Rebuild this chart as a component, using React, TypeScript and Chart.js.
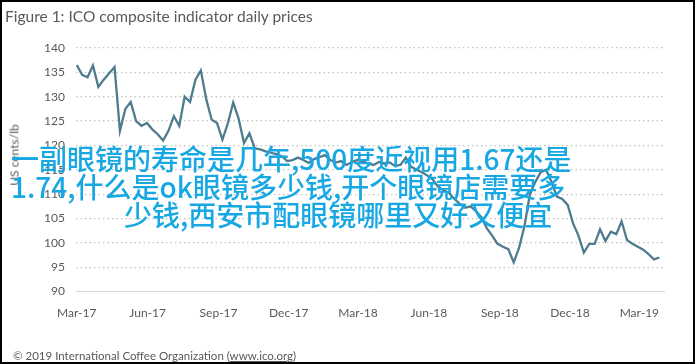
import React, { useEffect, useRef } from "react";
import { Chart, registerables } from "chart.js";

Chart.register(...registerables);

// Weekly observations of the ICO composite indicator (US cents/lb), starting 1 March 2017
const firstDate = "2017-03-01";
const prices: number[] = [
  136.5, 134.5, 134, 136.4, 132, 133.5, 134.8, 136.1, 123, 127.5,
  128.9, 125, 124, 124.6, 123.3, 122.3, 121, 123, 126, 124,
  130, 128.9, 133.5, 135.4, 129.5, 125.3, 124.6, 121.2, 124.5, 128.8,
  125.5, 120.5, 122.5, 119.4, 119.2, 118.8, 118.5, 118.2, 117.8, 116.8,
  117, 117.5, 117, 116.4, 117.2, 117.6, 118, 117, 116.5, 116.8,
  116, 116.6, 117, 116.8, 116.3, 116, 116.6, 116.3, 116.5, 115.8,
  116, 117.5, 115.6, 115, 114.5, 113.8, 113, 111.5, 110.8, 110.3,
  109, 108, 107.2, 107.5, 106.5, 105.3, 103, 101.5, 99.8, 99.2,
  98.7, 96, 99, 103.5, 110, 112.5, 114.5, 115, 112.5, 109.5,
  109, 107.8, 104, 101.5, 98, 99.8, 99.8, 102.8, 100.4, 102.3,
  101.8, 104.4, 100.6, 99.8, 99.2, 98.6, 97.7, 96.6, 97,
];

const xTickDates = [
  "2017-03-01", "2017-06-01", "2017-09-01", "2017-12-01", "2018-03-01",
  "2018-06-01", "2018-09-01", "2018-12-01", "2019-03-01",
];
const xTickLabels = [
  "Mar-17", "Jun-17", "Sep-17", "Dec-17", "Mar-18",
  "Jun-18", "Sep-18", "Dec-18", "Mar-19",
];
const yTicks = [90, 95, 100, 105, 110, 115, 120, 125, 130, 135, 140];

const titleText = "Figure 1: ICO composite indicator daily prices";
const yAxisTitle = "US cents/lb";
const footerText = "© 2019 International Coffee Organization (";
const footerLink = "www.ico.org";
const overlayLines = [
  "一副眼镜的寿命是几年,500度近视用1.67还是",
  "1.74,什么是ok眼镜多少钱,开个眼镜店需要多",
  "少钱,西安市配眼镜哪里又好又便宜",
];

const DAY = 86400000;
const dayOf = (iso: string) => Math.round((Date.parse(iso + "T00:00:00Z") - Date.parse(firstDate + "T00:00:00Z")) / DAY);

const FONT = "Lato, 'Open Sans', sans-serif";
const GREY = "#595959";

export default function App() {
  const canvasRef = useRef<HTMLCanvasElement | null>(null);

  useEffect(() => {
    document.body.style.margin = "0";
    const canvas = canvasRef.current;
    if (!canvas) return;
    const points = prices.map((v, i) => ({ x: i * 7, y: v }));
    const tickDays = xTickDates.map(dayOf);

    const chart = new Chart(canvas, {
      type: "line",
      data: {
        datasets: [
          {
            data: points,
            borderColor: "#4f7b8f",
            borderWidth: 2.3,
            pointRadius: 0,
            tension: 0,
            fill: false,
          },
        ],
      },
      options: {
        animation: false,
        responsive: false,
        events: [],
        layout: { padding: { left: 0, right: 31, top: 48, bottom: 30 } },
        plugins: { legend: { display: false }, tooltip: { enabled: false }, title: { display: false } },
        scales: {
          x: {
            type: "linear",
            min: -1,
            max: 762,
            afterBuildTicks: (scale: any) => {
              scale.ticks = tickDays.map((d) => ({ value: d }));
            },
            ticks: {
              autoSkip: false,
              maxRotation: 0,
              padding: 14,
              color: GREY,
              font: { family: FONT, size: 12 },
              callback: (value: any) => {
                const idx = tickDays.indexOf(Number(value));
                return idx >= 0 ? xTickLabels[idx] : "";
              },
            },
            grid: { display: false, drawTicks: false },
            border: { display: true, color: "#d9d9d9", width: 1 },
          },
          y: {
            min: 90,
            max: 140,
            afterBuildTicks: (scale: any) => {
              scale.ticks = yTicks.map((v) => ({ value: v }));
            },
            afterFit: (scale: any) => {
              scale.width = 76;
            },
            ticks: {
              padding: 11,
              color: GREY,
              font: { family: FONT, size: 12 },
            },
            grid: {
              drawTicks: false,
              lineWidth: 1.2,
              color: (ctx: any) => (ctx.tick && ctx.tick.value === 90 ? "rgba(0,0,0,0)" : "#c4c4c4"),
            },
            border: { display: false, dash: [1.5, 3] },
          },
        },
      },
    } as any);

    return () => chart.destroy();
  }, []);

  return (
    <div style={{ position: "relative", width: 695, height: 364, background: "#fff", overflow: "hidden" }}>
      <canvas ref={canvasRef} width={695} height={364} style={{ position: "absolute", left: 0, top: 0 }} />
      <div
        style={{
          position: "absolute",
          left: 5,
          top: 6,
          fontFamily: FONT,
          fontSize: 15.5,
          color: GREY,
          whiteSpace: "nowrap",
          lineHeight: "20px",
        }}
      >
        {titleText}
      </div>
      <div
        style={{
          position: "absolute",
          left: 14,
          top: 155,
          transform: "translate(-50%, -50%) rotate(-90deg)",
          fontFamily: FONT,
          fontSize: 12,
          color: GREY,
          whiteSpace: "nowrap",
        }}
      >
        {yAxisTitle}
      </div>
      <div
        style={{
          position: "absolute",
          left: 13,
          top: 348,
          fontFamily: FONT,
          fontSize: 11.5,
          color: GREY,
          whiteSpace: "nowrap",
          lineHeight: "16px",
        }}
      >
        {footerText}
        <span style={{ textDecoration: "underline" }}>{footerLink}</span>)
      </div>
      {overlayLines.map((line, i) => (
        <div
          key={i}
          style={{
            position: "absolute",
            left: i === 2 ? 124 : 11,
            top: 144 + i * 28,
            fontFamily: "'Noto Sans CJK SC', sans-serif",
            fontSize: 28,
            fontWeight: 500,
            lineHeight: "28px",
            color: "#17a8e3",
            whiteSpace: "nowrap",
          }}
        >
          {line}
        </div>
      ))}
      <div
        style={{
          position: "absolute",
          left: 0,
          top: 0,
          width: 695,
          height: 364,
          boxSizing: "border-box",
          border: "2px solid #000",
          pointerEvents: "none",
        }}
      />
    </div>
  );
}
